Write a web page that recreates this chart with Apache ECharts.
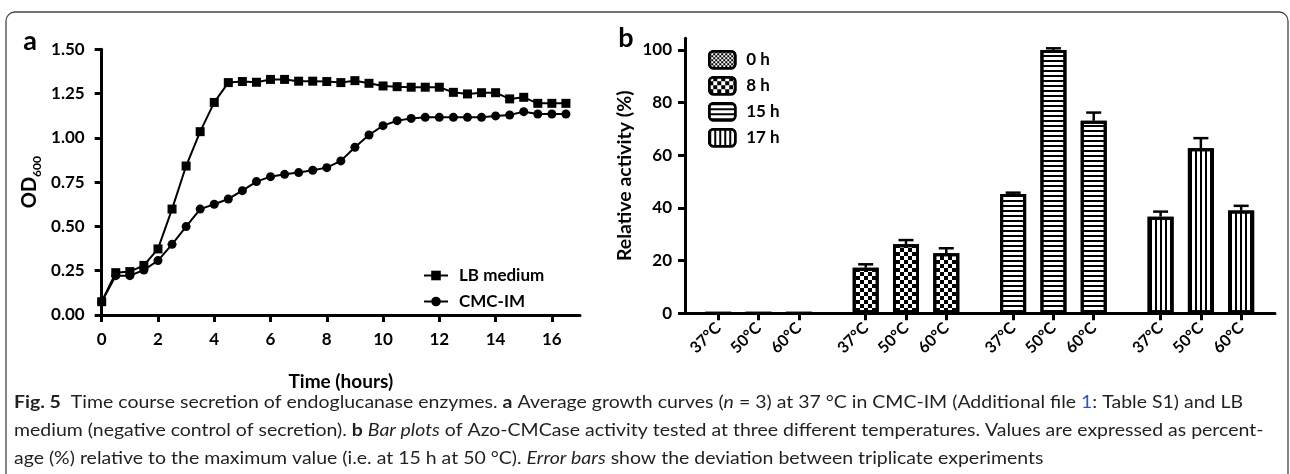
<!DOCTYPE html>
<html><head><meta charset="utf-8">
<script src="https://cdn.jsdelivr.net/npm/echarts@6.0.0/dist/echarts.min.js"></script>
<style>html,body{margin:0;padding:0;background:#fff}#c{width:1290px;height:474px}</style>
</head><body><div id="c"></div><script>
// ---------- Panel a data ----------
const hoursA = [0,0.5,1,1.5,2,2.5,3,3.5,4,4.5,5,5.5,6,6.5,7,7.5,8,8.5,9,9.5,10,10.5,11,11.5,12,12.5,13,13.5,14,14.5,15,15.5,16,16.5];
const lbMedium = [0.075,0.239,0.245,0.28,0.373,0.598,0.841,1.035,1.20,1.312,1.318,1.314,1.33,1.33,1.32,1.32,1.318,1.312,1.323,1.308,1.293,1.289,1.286,1.286,1.286,1.257,1.248,1.255,1.255,1.22,1.229,1.195,1.195,1.195];
const cmcIm = [0.075,0.222,0.222,0.254,0.307,0.399,0.499,0.598,0.625,0.655,0.702,0.753,0.781,0.794,0.804,0.817,0.832,0.870,0.947,1.016,1.069,1.097,1.110,1.116,1.116,1.116,1.116,1.116,1.124,1.129,1.148,1.135,1.135,1.135];
const seriesNamesA = ['LB medium','CMC-IM'];
const xTicksA = [0,2,4,6,8,10,12,14,16];
const yTicksA = [0,0.25,0.5,0.75,1.0,1.25,1.5];

// ---------- Panel b data ----------
const temps = ['37°C','50°C','60°C'];
const timeGroups = ['0 h','8 h','15 h','17 h'];
const activity0h = [0,0,0];
const activity8h = [17.3,26.2,22.8];
const activity15h = [45.3,100,73.1];
const activity17h = [36.7,62.7,39.0];
const error0h = [0,0,0];
const error8h = [1.3,1.6,1.9];
const error15h = [0.5,0.6,3.1];
const error17h = [1.9,3.8,1.8];
const yTicksB = [0,20,40,60,80,100];

const activities = [activity0h, activity8h, activity15h, activity17h];
const errors = [error0h, error8h, error15h, error17h];

// ---------- layout constants ----------
const GROUP_STEP = 3.66; // group spacing in bar-slot units
const pos = (g, i) => g * GROUP_STEP + i;
const FONT = 'Lato';

const barPositions = [], barLabels = {};
timeGroups.forEach((_, g) => temps.forEach((t, i) => { const p = pos(g, i); barPositions.push(p); barLabels[p.toFixed(2)] = t; }));

const decals = [
  { symbol:'rect', symbolSize:1, color:'#000', dashArrayX:[[1.5,1.5],[0,1.5,1.5,0]], dashArrayY:[1.5,0] },
  { symbol:'rect', symbolSize:1, color:'#000', dashArrayX:[[4,4],[0,4,4,0]], dashArrayY:[4,0] },
  { symbol:'rect', symbolSize:1, color:'#000', dashArrayX:[1,0], dashArrayY:[1.4,2.3] },
  { symbol:'rect', symbolSize:1, color:'#000', dashArrayX:[1.4,2.2], dashArrayY:[1,0] }
];

const barSeries = timeGroups.map((name, g) => ({
  name, type:'bar', xAxisIndex:1, yAxisIndex:1, barWidth:26, barGap:'-100%',
  data: activities[g].map((v, i) => [pos(g, i), v]),
  itemStyle: { color:'#fff', borderColor:'#000', borderWidth:3, decal: decals[g] },
  z: 2
}));

const errData = [];
timeGroups.forEach((_, g) => activities[g].forEach((v, i) => { if (errors[g][i] > 0) errData.push([pos(g, i), v, errors[g][i]]); }));

const errSeries = {
  type:'custom', xAxisIndex:1, yAxisIndex:1, z:3,
  data: errData,
  renderItem(params, api) {
    const x = api.value(0), v = api.value(1), e = api.value(2);
    const p0 = api.coord([x, v]), p1 = api.coord([x, v + e]);
    return { type:'group', children:[
      { type:'line', shape:{ x1:p0[0], y1:p0[1], x2:p1[0], y2:p1[1] }, style:{ stroke:'#000', lineWidth:2.5 } },
      { type:'line', shape:{ x1:p1[0]-7.5, y1:p1[1], x2:p1[0]+7.5, y2:p1[1] }, style:{ stroke:'#000', lineWidth:2.5 } }
    ]};
  }
};

// ---------- caption ----------
const CAP_SIZE = 16.5;
const capLines = [
  [['Fig. 5','b'],['  Time course secretion of endoglucanase enzymes. '],['a','b'],[' Average growth curves ('],['n','i'],[' = 3) at 37 °C in CMC-IM (Additional file '],['1','l'],[': Table S1) and LB']],
  [['medium (negative control of secretion). '],['b','b'],[' '],['Bar plots','i'],[' of Azo-CMCase activity tested at three different temperatures. Values are expressed as percent-']],
  [['age (%) relative to the maximum value (i.e. at 15 h at 50 °C). '],['Error bars','i'],[' show the deviation between triplicate experiments']]
];
const ctx = document.createElement('canvas').getContext('2d');
function fontFor(k){ return (k==='b'?'bold ':'') + (k==='i'?'italic ':'') + CAP_SIZE + 'px ' + FONT; }
function lineWidth(segs){ let w=0; segs.forEach(([t,k])=>{ ctx.font = fontFor(k); w += ctx.measureText(t).width; }); return w; }
const capScale = 1.007 * ((1228 / lineWidth(capLines[0])) + (1233 / lineWidth(capLines[1]))) / 2;
const capY = [403, 431, 459];
const capRich = {
  b:{ fontWeight:'bold', fontSize:CAP_SIZE, fontFamily:FONT, fill:'#231f20' },
  i:{ fontStyle:'italic', fontSize:CAP_SIZE, fontFamily:FONT, fill:'#231f20' },
  l:{ fontSize:CAP_SIZE, fontFamily:FONT, fill:'#2a55d8' }
};
const captionGraphics = capLines.map((segs, li) => ({
  type:'text', x:14, y:capY[li], scaleX:capScale, silent:true,
  style:{ text: segs.map(([t,k]) => k ? '{'+k+'|'+t+'}' : t).join(''), rich:capRich,
    fontSize:CAP_SIZE, fontFamily:FONT, fill:'#231f20', verticalAlign:'middle', align:'left' }
}));

const axisLineStyle = { color:'#000', width:3 };
const tickLabel = { color:'#000', fontFamily:FONT, fontWeight:'bold', fontSize:17 };

const chart = echarts.init(document.getElementById('c'));
chart.setOption({
  animation:false,
  backgroundColor:'#fff',
  grid:[
    { left:101.7, right:710, top:49.3, bottom:159, containLabel:false },
    { left:685, right:15, top:38.3, bottom:160.7, containLabel:false }
  ],
  xAxis:[
    { type:'value', gridIndex:0, min:0, max:17, interval:2,
      axisLine:{ onZero:false, lineStyle:axisLineStyle }, splitLine:{show:false},
      axisTick:{ length:7, lineStyle:{ width:3, color:'#000' }, customValues:xTicksA },
      axisLabel:{ ...tickLabel, margin:16, customValues:xTicksA },
      name:'Time (hours)', nameLocation:'middle', nameGap:57,
      nameTextStyle:{ color:'#000', fontFamily:FONT, fontWeight:'bold', fontSize:19 } },
    { type:'value', gridIndex:1, min:-0.826, max:3*GROUP_STEP+2+0.84,
      axisLine:{ onZero:false, lineStyle:axisLineStyle }, splitLine:{show:false},
      axisTick:{ length:7, lineStyle:{ width:3, color:'#000' }, customValues:barPositions },
      axisLabel:{ ...tickLabel, fontSize:16, rotate:45, margin:12, customValues:barPositions,
        formatter: v => barLabels[Number(v).toFixed(2)] || '' } }
  ],
  yAxis:[
    { type:'value', gridIndex:0, min:0, max:1.5, interval:0.25,
      axisLine:{ show:true, onZero:false, lineStyle:axisLineStyle }, splitLine:{show:false},
      axisTick:{ show:true, length:7, lineStyle:{ width:3, color:'#000' }, customValues:yTicksA },
      axisLabel:{ ...tickLabel, margin:17, customValues:yTicksA, formatter: v => Number(v).toFixed(2) },
      name:'{a|OD}{s|600}', nameLocation:'middle', nameGap:62, nameRotate:90,
      nameTextStyle:{ color:'#000', rich:{ a:{ fontFamily:FONT, fontWeight:'bold', fontSize:20, color:'#000', lineHeight:24, verticalAlign:'bottom' }, s:{ fontFamily:FONT, fontWeight:'bold', fontSize:12, color:'#000', lineHeight:24, verticalAlign:'bottom', padding:[0,0,-3,0] } } } },
    { type:'value', gridIndex:1, min:0, max:104.4, interval:20,
      axisLine:{ show:true, onZero:false, lineStyle:axisLineStyle }, splitLine:{show:false},
      axisTick:{ show:true, length:7, lineStyle:{ width:3, color:'#000' }, customValues:yTicksB },
      axisLabel:{ ...tickLabel, margin:13, customValues:yTicksB },
      name:'Relative activity (%)', nameLocation:'middle', nameGap:50, nameRotate:90,
      nameTextStyle:{ color:'#000', fontFamily:FONT, fontWeight:'bold', fontSize:19.5 } }
  ],
  legend:[
    { data:seriesNamesA, orient:'vertical', left:418, top:262, itemWidth:24, itemHeight:12, itemGap:9,
      textStyle:{ color:'#000', fontFamily:FONT, fontWeight:'bold', fontSize:17, padding:[0,0,0,6] } },
    { data:timeGroups, orient:'vertical', left:703, top:45, itemWidth:26, itemHeight:17, itemGap:6.5,
      itemStyle:{ borderColor:'#000', borderWidth:2.5 },
      textStyle:{ color:'#000', fontFamily:FONT, fontWeight:'bold', fontSize:17, padding:[0,0,0,6] } }
  ],
  series:[
    { name:seriesNamesA[0], type:'line', xAxisIndex:0, yAxisIndex:0, data:hoursA.map((t,i)=>[t, lbMedium[i]]),
      symbol:'rect', symbolSize:9, lineStyle:{ color:'#000', width:2 }, itemStyle:{ color:'#000' }, z:3 },
    { name:seriesNamesA[1], type:'line', xAxisIndex:0, yAxisIndex:0, data:hoursA.map((t,i)=>[t, cmcIm[i]]),
      symbol:'circle', symbolSize:9, lineStyle:{ color:'#000', width:2 }, itemStyle:{ color:'#000' }, z:3 },
    ...barSeries,
    errSeries
  ],
  graphic:[
    { type:'rect', silent:true, shape:{ x:6, y:12, width:1282, height:520, r:9 }, style:{ fill:'none', stroke:'#444', lineWidth:1.3 } },
    { type:'text', x:30, y:41, silent:true, style:{ text:'a', font:'bold 27px '+FONT, fill:'#000', align:'center', verticalAlign:'middle' } },
    { type:'text', x:626, y:38, silent:true, style:{ text:'b', font:'bold 27px '+FONT, fill:'#000', align:'center', verticalAlign:'middle' } },
    ...captionGraphics
  ]
});
</script></body></html>
